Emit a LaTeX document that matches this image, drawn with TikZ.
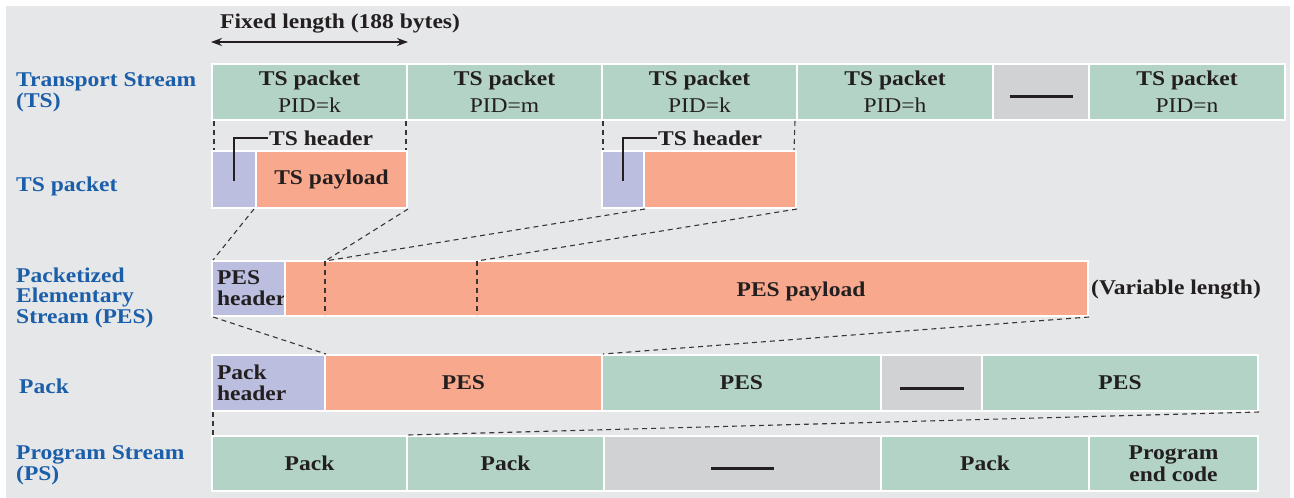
\documentclass[tikz,border=0pt]{standalone}
\usepackage{fontspec}
\setmainfont{Liberation Serif}[FakeStretch=1.12]
\usetikzlibrary{arrows.meta}
\definecolor{bgc}{HTML}{E6E7E9}
\definecolor{cgreen}{HTML}{B3D3C6}
\definecolor{corange}{HTML}{F8A98D}
\definecolor{cpurple}{HTML}{BBBEDF}
\definecolor{cgray}{HTML}{D1D2D4}
\definecolor{cblue}{HTML}{1B5EA9}
\definecolor{cdark}{HTML}{231F20}
\begin{document}
\begin{tikzpicture}[x=1pt,y=-1pt,
  cell/.style={draw=white, line width=2pt, inner sep=0pt, anchor=north west, text=cdark,
    font=\fontsize{21}{21}\selectfont\bfseries, align=center},
  tscell/.style={cell, fill=cgreen, minimum height=56pt, font=\fontsize{21}{27}\selectfont},
  lbl/.style={inner sep=0pt, text=cblue, font=\fontsize{21}{20.5}\selectfont\bfseries, align=left, anchor=base west},
  btxt/.style={inner sep=0pt, text=cdark, font=\fontsize{21}{21}\selectfont\bfseries},
  dline/.style={draw=cdark!90, line width=1.1pt, dash pattern=on 5pt off 4pt},
  bar/.style={draw=cdark, line width=3pt},
  hdrline/.style={draw=cdark, line width=1.4pt}]
\useasboundingbox (0,0) rectangle (1294,498);
\fill[white] (0,0) rectangle (1294,498);
\fill[bgc] (6,6) rectangle (1290,498);

% Transport stream row
\node[tscell, minimum width=195pt] (ts1) at (211,63) {{\bfseries TS packet}\\PID=k};
\node[tscell, minimum width=195pt] (ts2) at (406,63) {{\bfseries TS packet}\\PID=m};
\node[tscell, minimum width=195pt] (ts3) at (601,63) {{\bfseries TS packet}\\PID=k};
\node[tscell, minimum width=196pt] (ts4) at (796,63) {{\bfseries TS packet}\\PID=h};
\node[cell, fill=cgray, minimum width=96pt, minimum height=56pt] (tsg) at (992,63) {};
\node[tscell, minimum width=196pt] (ts6) at (1088,63) {{\bfseries TS packet}\\PID=n};

% TS packet row
\node[cell, fill=cpurple, minimum width=44pt, minimum height=57pt] (h1) at (211,150) {};
\node[cell, fill=corange, minimum width=151pt, minimum height=57pt] (p1) at (255,150) {TS payload};
\node[cell, fill=cpurple, minimum width=42pt, minimum height=57pt] (h2) at (601,150) {};
\node[cell, fill=corange, minimum width=152pt, minimum height=57pt] (p2) at (643,150) {};

% PES row
\node[cell, fill=cpurple, minimum width=73pt, minimum height=55pt, text width=63pt, align=left] (pesh) at (211,260) {PES\\header};
\node[cell, fill=corange, minimum width=803pt, minimum height=55pt] (pesp) at (284,260) {};
\node[btxt] (pespl) at (801,291) {PES payload};
\node[btxt, anchor=base west] (varl) at (1091,294) {(Variable length)};

% Pack row
\node[cell, fill=cpurple, minimum width=113pt, minimum height=56pt, text width=103pt, align=left] (pkh) at (211,354) {Pack\\header};
\node[cell, fill=corange, minimum width=277pt, minimum height=56pt] (pkp1) at (324,354) {PES};
\node[cell, fill=cgreen, minimum width=279pt, minimum height=56pt] (pkp2) at (601,354) {PES};
\node[cell, fill=cgray, minimum width=101pt, minimum height=56pt] (pkg) at (880,354) {};
\node[cell, fill=cgreen, minimum width=276pt, minimum height=56pt] (pkp3) at (981,354) {PES};

% Program stream row
\node[cell, fill=cgreen, minimum width=195pt, minimum height=55pt] (ps1) at (211,435) {Pack};
\node[cell, fill=cgreen, minimum width=197pt, minimum height=55pt] (ps2) at (406,435) {Pack};
\node[cell, fill=cgray, minimum width=277pt, minimum height=55pt] (psg) at (603,435) {};
\node[cell, fill=cgreen, minimum width=208pt, minimum height=55pt] (ps3) at (880,435) {Pack};
\node[cell, fill=cgreen, minimum width=169pt, minimum height=55pt, font=\fontsize{21}{22}\selectfont\bfseries] (psend) at (1088,435) {Program\\end code};

% dash bars in gray cells
\draw[bar] ([xshift=-31.5pt,yshift=-4pt]tsg.center) -- ([xshift=31.5pt,yshift=-4pt]tsg.center);
\draw[bar] ([xshift=-32pt,yshift=-5pt]pkg.center) -- ([xshift=32pt,yshift=-5pt]pkg.center);
\draw[bar] ([xshift=-31.5pt,yshift=-4.5pt]psg.center) -- ([xshift=31.5pt,yshift=-4.5pt]psg.center);

% Left labels (base anchor = last line baseline)
\node[lbl] (lts) at (16,107) {Transport Stream\\(TS)};
\node[lbl] (ltsp) at (16,191) {TS packet};
\node[lbl] (lpes) at (16,323) {Packetized\\Elementary\\Stream (PES)};
\node[lbl] (lpack) at (19,393) {Pack};
\node[lbl] (lps) at (16,480) {Program Stream\\(PS)};

% Fixed length arrow
\node[btxt, anchor=base west] (fixl) at (220,28) {Fixed length (188 bytes)};
\draw[draw=cdark, line width=1.5pt, {Stealth[length=11pt,width=8pt]}-{Stealth[length=11pt,width=8pt]}]
  ([yshift=21pt]ts1.north west) -- ([yshift=21pt]ts1.north east);

% TS header callouts
\node[btxt, anchor=west, inner sep=1pt] (th1) at (268,138) {TS header};
\node[btxt, anchor=west, inner sep=1pt] (th2) at (657,138) {TS header};
\draw[hdrline] ([yshift=-1.5pt]h1.center) |- (th1.west);
\draw[hdrline] ([yshift=-1.5pt]h2.center) |- (th2.west);

% dashed guides TS -> TS packet
\draw[dline] ([xshift=3pt]ts1.south west) -- ([xshift=3pt]h1.north west);
\draw[dline] ([xshift=-2pt]ts1.south east) -- ([xshift=-2pt]p1.north east);
\draw[dline] ([xshift=2pt]ts3.south west) -- ([xshift=2pt]h2.north west);
\draw[dline] ([xshift=-3pt]ts3.south east) -- ([xshift=-3pt]p2.north east);

% PES internal dividers
\coordinate (c1t) at (325,261);
\coordinate (c1b) at (325,315);
\coordinate (c2t) at (477,261);
\coordinate (c2b) at (477,315);
\draw[dline] (c1t) -- (c1b);
\draw[dline] (c2t) -- (c2b);

% TS packet -> PES
\draw[dline] ([xshift=-3pt]h1.south east) -- ([xshift=2pt]pesh.north west);
\draw[dline] (p1.south east) -- (c1t);
\draw[dline] (h2.south east) -- (c1t);
\draw[dline] (p2.south east) -- (c2t);

% PES -> Pack
\draw[dline] ([xshift=2pt]pesh.south west) -- (pkh.north east);
\draw[dline] (pesp.south east) -- (pkp1.north east);

% Pack -> PS
\draw[dline] ([xshift=2pt]pkh.south west) -- ([xshift=2pt]ps1.north west);
\draw[dline] (pkp3.south east) -- (ps1.north east);
\end{tikzpicture}
\end{document}
